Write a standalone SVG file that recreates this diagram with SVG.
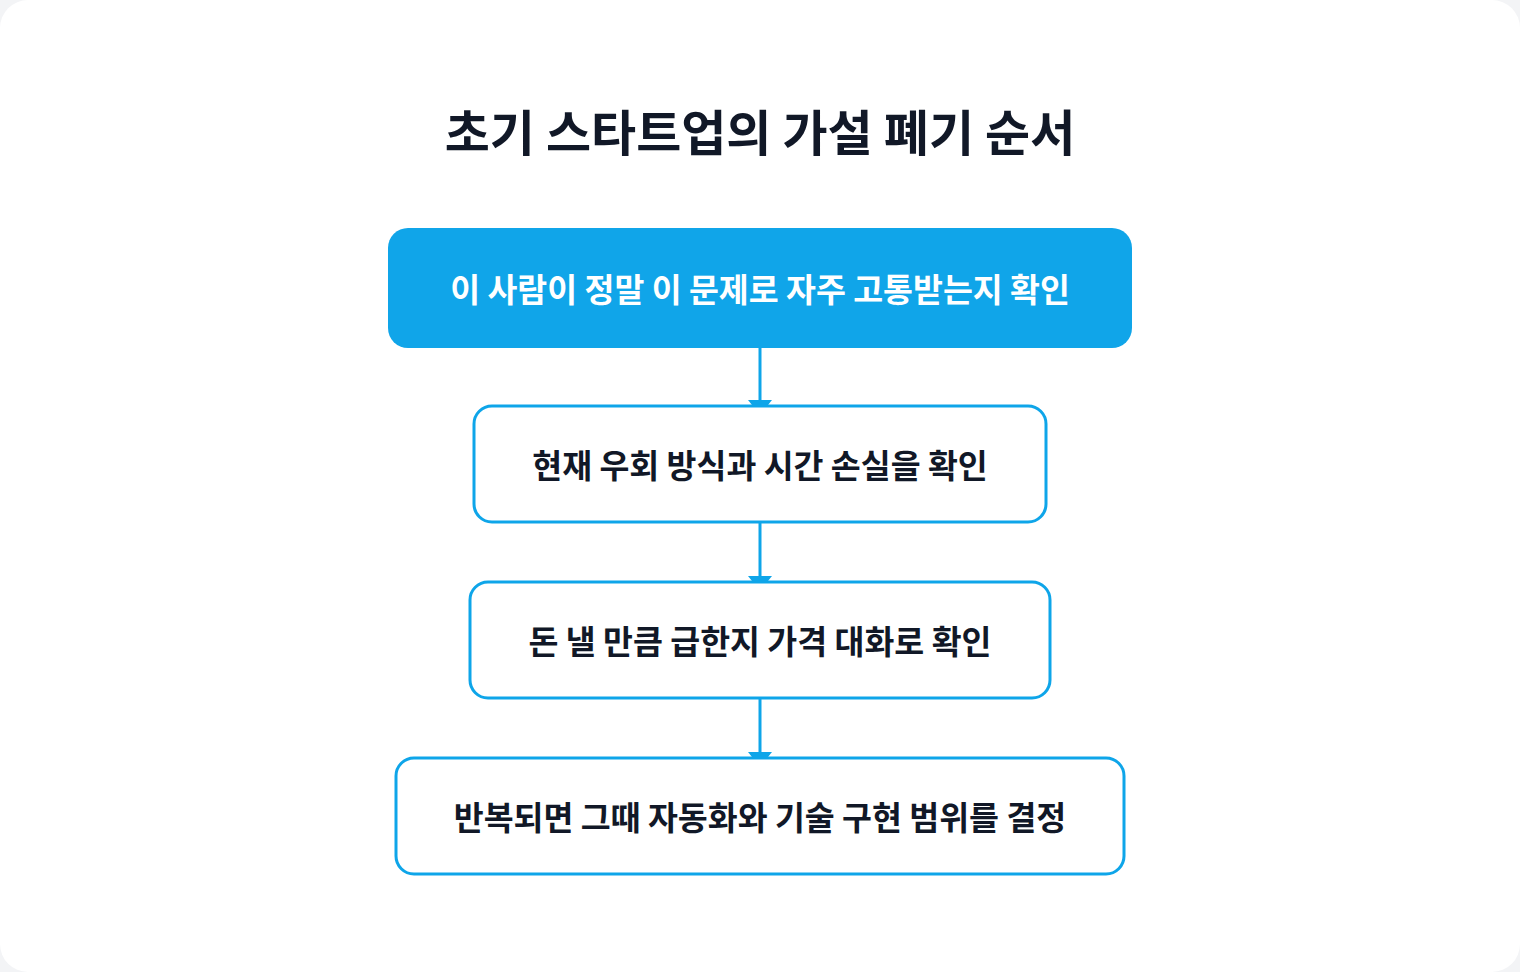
<svg xmlns="http://www.w3.org/2000/svg" width="1520" height="972" viewBox="0 0 1520 972">
<defs>
<style>
.box{fill:#ffffff;stroke:#0ea5e9;stroke-width:3}
.lbl{font-family:"Noto Sans CJK KR","Noto Sans",sans-serif;font-weight:700;font-size:32.5px;fill:#111827;text-anchor:middle;dominant-baseline:central}
.edge{stroke:#0ea5e9;stroke-width:3;fill:none}
.head{fill:#0ea5e9}
</style>
</defs>
<rect x="0" y="0" width="1520" height="972" fill="#f3f4f6"/>
<rect x="0" y="0" width="1520" height="972" rx="28" fill="#ffffff"/>
<text x="760" y="129" style="font-family:'Noto Sans CJK KR','Noto Sans',sans-serif;font-weight:700;font-size:49px;fill:#111827;text-anchor:middle;dominant-baseline:central">초기 스타트업의 가설 폐기 순서</text>
<g id="connectors">
<line class="edge" x1="760" y1="347" x2="760" y2="401"/>
<path class="head" d="M748,400 L772,400 L760,415 Z"/>
<line class="edge" x1="760" y1="522" x2="760" y2="577"/>
<path class="head" d="M748,576 L772,576 L760,591 Z"/>
<line class="edge" x1="760" y1="698" x2="760" y2="753"/>
<path class="head" d="M748,752 L772,752 L760,767 Z"/>
</g>
<g id="n1">
<rect x="388" y="228" width="744" height="120" rx="20" fill="#10a5e9"/>
<text class="lbl" x="760" y="287" style="fill:#ffffff">이 사람이 정말 이 문제로 자주 고통받는지 확인</text>
</g>
<g id="n2">
<rect class="box" x="474" y="406" width="572" height="116" rx="18"/>
<text class="lbl" x="760" y="463">현재 우회 방식과 시간 손실을 확인</text>
</g>
<g id="n3">
<rect class="box" x="470" y="582" width="580" height="116" rx="18"/>
<text class="lbl" x="760" y="639">돈 낼 만큼 급한지 가격 대화로 확인</text>
</g>
<g id="n4">
<rect class="box" x="396" y="758" width="728" height="116" rx="18"/>
<text class="lbl" x="760" y="815">반복되면 그때 자동화와 기술 구현 범위를 결정</text>
</g>
</svg>
